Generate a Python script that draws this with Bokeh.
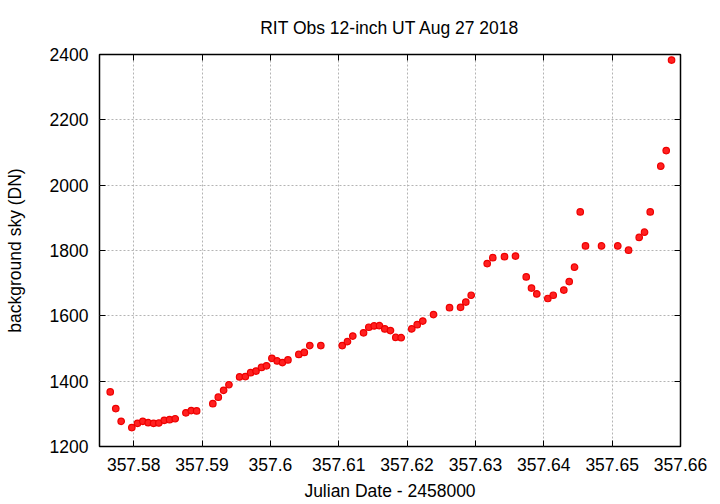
from bokeh.plotting import figure
from bokeh.models import (LinearAxis, FixedTicker, CustomJSTickFormatter, Range1d,
                          Grid, ColumnDataSource, CustomLabelingPolicy)
from bokeh.embed import file_html
from bokeh.resources import INLINE

# ---- data ----
jd = [357.57657, 357.57738, 357.57817, 357.57973, 357.58056, 357.58134, 357.58213,
      357.58291, 357.58369, 357.58447, 357.58525, 357.58608, 357.58764, 357.58843,
      357.58921, 357.59158, 357.59238, 357.59316, 357.59394, 357.59550, 357.59634,
      357.59711, 357.59790, 357.59870, 357.59943, 357.60022, 357.60100, 357.60178,
      357.60257, 357.60416, 357.60496, 357.60577, 357.60738, 357.61051, 357.61128,
      357.61206, 357.61363, 357.61440, 357.61519, 357.61597, 357.61674, 357.61757,
      357.61835, 357.61914, 357.62069, 357.62148, 357.62230, 357.62387, 357.62621,
      357.62782, 357.62859, 357.62938, 357.63172, 357.63254, 357.63425, 357.63586,
      357.63743, 357.63820, 357.63898, 357.64059, 357.64138, 357.64293, 357.64372,
      357.64450, 357.64533, 357.64610, 357.64845, 357.65083, 357.65240, 357.65396,
      357.65474, 357.65557, 357.65712, 357.65791, 357.65869]
sky = [1367, 1316, 1277, 1258, 1271, 1277, 1273, 1271, 1272, 1280, 1282, 1285, 1303,
       1310, 1309, 1331, 1351, 1372, 1389, 1413, 1414, 1426, 1431, 1442, 1447, 1470,
       1462, 1457, 1465, 1482, 1488, 1509, 1509, 1509, 1521, 1538, 1548, 1565, 1569,
       1570, 1560, 1555, 1534, 1533, 1560, 1573, 1584, 1604, 1625, 1626, 1642, 1663,
       1760, 1778, 1781, 1783, 1719, 1685, 1667, 1653, 1663, 1679, 1705, 1749, 1918,
       1814, 1814, 1814, 1801, 1840, 1856, 1918, 2058, 2106, 2383]

x_ticks = [357.58, 357.59, 357.60, 357.61, 357.62, 357.63, 357.64, 357.65, 357.66]
y_ticks = [1200, 1400, 1600, 1800, 2000, 2200, 2400]

title = "RIT Obs 12-inch UT Aug 27 2018"
x_label = "Julian Date - 2458000"
y_label = "background sky (DN)"

FONT = "Liberation Sans"
FS = "17.5px"

p = figure(frame_width=581, frame_height=392,
           min_border_left=99, min_border_top=54, min_border_right=30, min_border_bottom=8,
           x_range=Range1d(357.575, 357.66), y_range=Range1d(1200, 2400),
           x_axis_type=None, y_axis_type=None,
           output_backend="svg", toolbar_location=None)

p.title.text = title
p.title.align = "center"
p.title.text_font = FONT
p.title.text_font_size = FS
p.title.text_font_style = "normal"
p.title.text_color = "black"
p.title.standoff = 25

xt = FixedTicker(ticks=x_ticks)
yt = FixedTicker(ticks=y_ticks)
xfmt = CustomJSTickFormatter(code="return String(parseFloat(tick.toFixed(2)));")
no_labels = CustomLabelingPolicy(code="return new Set()")


def style_axis(ax, show_labels=True):
    ax.axis_line_color = None
    ax.major_tick_in = 6
    ax.major_tick_out = 0
    ax.major_tick_line_color = "black"
    ax.major_tick_line_width = 1
    ax.minor_tick_line_color = None
    if show_labels:
        ax.major_label_text_font = FONT
        ax.major_label_text_font_size = FS
        ax.major_label_text_color = "black"
        ax.axis_label_text_font = FONT
        ax.axis_label_text_font_size = FS
        ax.axis_label_text_font_style = "normal"
        ax.axis_label_text_color = "black"
    else:
        ax.major_label_policy = no_labels
        ax.major_label_text_font_size = "1px"
        ax.major_label_standoff = 0


xaxis = LinearAxis(ticker=xt, formatter=xfmt, axis_label=x_label)
style_axis(xaxis)
xaxis.major_label_standoff = 11
xaxis.axis_label_standoff = 7
p.add_layout(xaxis, "below")

yaxis = LinearAxis(ticker=yt, axis_label=y_label)
style_axis(yaxis)
yaxis.major_label_standoff = 11
yaxis.axis_label_standoff = 22
p.add_layout(yaxis, "left")

top = LinearAxis(ticker=xt)
style_axis(top, False)
p.add_layout(top, "above")

right = LinearAxis(ticker=yt)
style_axis(right, False)
p.add_layout(right, "right")

for dim, tk in ((0, xt), (1, yt)):
    g = Grid(dimension=dim, ticker=tk, grid_line_color="#b4b4b4",
             grid_line_dash="2 2", grid_line_width=1)
    p.add_layout(g)

p.outline_line_color = "black"
p.outline_line_width = 1.5

src = ColumnDataSource(dict(jd=jd, sky=sky))
p.scatter("jd", "sky", source=src, size=6.5, marker="circle",
          fill_color="#ff2020", line_color="#ee0000", line_width=1.2)

open("out.html", "w").write(file_html(p, INLINE))
